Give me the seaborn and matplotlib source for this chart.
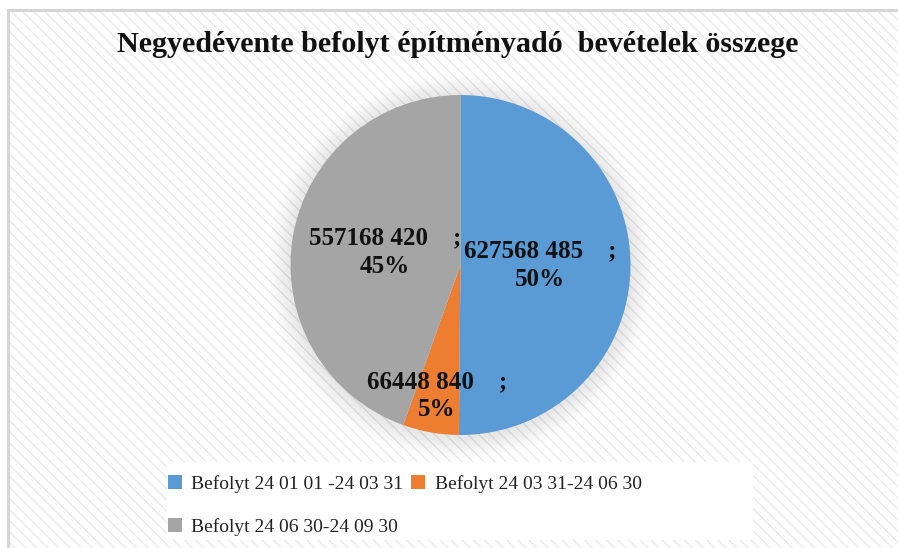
import numpy as np
import matplotlib
matplotlib.use("Agg")
import matplotlib.pyplot as plt
from matplotlib.patches import Rectangle, Patch, Circle
import seaborn as sns

# ---- data ----
categories = ["Befolyt 24 01 01 -24 03 31",
              "Befolyt 24 03 31-24 06 30",
              "Befolyt 24 06 30-24 09 30"]
values = [627568485, 66448840, 557168420]
title = "Negyedévente befolyt építményadó  bevételek összege"

# ---- style ----
sns.set_theme(style="white")
plt.rcParams["font.family"] = ["Liberation Serif", "DejaVu Serif"]
plt.rcParams["hatch.color"] = "#eaeaea"
plt.rcParams["hatch.linewidth"] = 1.0
colors = ["#5B9BD5", "#ED7D31", "#A5A5A5"]
label_radii = [0.47, 0.78, 0.45]

W, H = 898, 548
fig = plt.figure(figsize=(W / 100, H / 100), dpi=100)
fig.patch.set_facecolor("white")

def fx(px):
    return px / W

def fy(py):
    return 1 - py / H

# chart area background with diagonal hatch
bg = Rectangle((fx(8), 0), 1 - fx(8) + 0.01, fy(10), transform=fig.transFigure,
               facecolor="white", edgecolor="#eaeaea", hatch="\\\\\\", linewidth=0, zorder=-3)
fig.patches.append(bg)
border = Rectangle((fx(8), -0.01), 1 - fx(8) + 0.02, fy(10) + 0.01, transform=fig.transFigure,
                   facecolor="none", edgecolor="#d6d6d6", linewidth=2.2, zorder=-2)
fig.patches.append(border)

# legend background
lg_bg = Rectangle((fx(167), fy(540)), fx(753) - fx(167), fy(462) - fy(540),
                  transform=fig.transFigure, facecolor="white", edgecolor="none", zorder=-1)
fig.patches.append(lg_bg)

fig.text(fx(458), fy(45), title, ha="center", va="center", fontsize=21.7,
         fontweight="bold", color="#111111")

# pie
cx, cy, r = 460.5, 265, 170
ax = fig.add_axes([fx(cx - r), fy(cy + r), 2 * r / W, 2 * r / H])
ax.patch.set_alpha(0)
# soft shadow
for k in range(12):
    ax.add_patch(Circle((0, -0.01), 1.0 + 0.011 * (12 - k), color="#808080",
                        alpha=0.013, lw=0, zorder=0, clip_on=False))
wedges, _ = ax.pie(values, colors=colors, startangle=90, counterclock=False,
                   radius=1, wedgeprops=dict(linewidth=0, zorder=2))
ax.set_xlim(-1, 1)
ax.set_ylim(-1, 1)
ax.set_aspect("equal")
ax.axis("off")

total = sum(values)
for w, v, rr in zip(wedges, values, label_radii):
    ang = np.deg2rad((w.theta1 + w.theta2) / 2)
    txt = f"{v // 1000} {v % 1000:03d}    ;\n{round(v / total * 100)}%"
    ax.text(rr * np.cos(ang), rr * np.sin(ang), txt, ha="center", va="center",
            fontsize=18, fontweight="bold", color="#111111", linespacing=1.3,
            zorder=5)

# legend (row-major order: blue, orange / gray)
handles = [Patch(facecolor=c, edgecolor="none") for c in colors]
order = [0, 2, 1]
leg = fig.legend([handles[i] for i in order], [categories[i] for i in order],
                 loc="upper left", bbox_to_anchor=(fx(168), fy(475)), ncol=2,
                 frameon=False, fontsize=14, handlelength=0.7, handleheight=0.7,
                 handletextpad=0.5, columnspacing=0.4, labelspacing=1.3,
                 borderaxespad=0, borderpad=0)
for t in leg.get_texts():
    t.set_color("#222222")

fig.savefig("out.png", dpi=100)
